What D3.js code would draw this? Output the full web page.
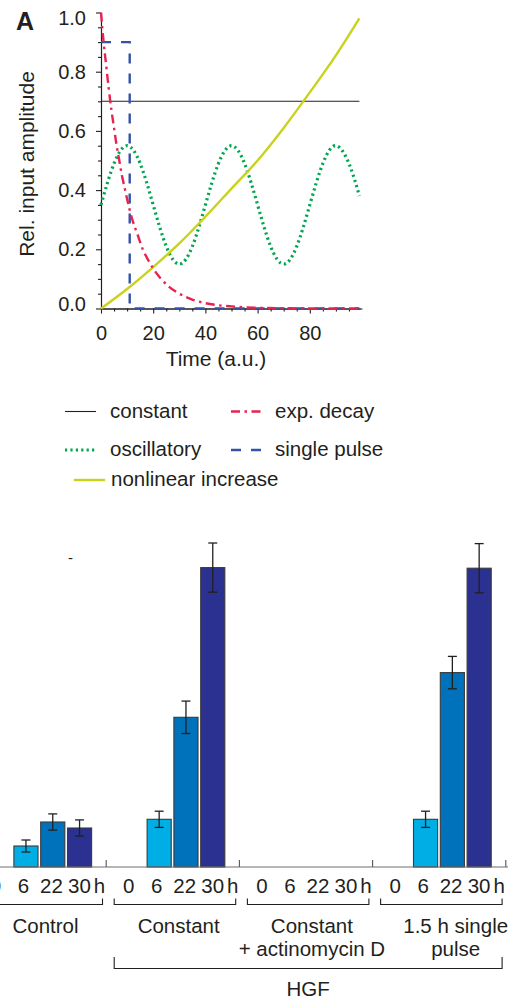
<!DOCTYPE html>
<html>
<head>
<meta charset="utf-8">
<script src="https://cdn.jsdelivr.net/npm/d3@7"></script>
<style>
  body { margin: 0; background: #fff; }
  svg text { font-family: "Liberation Sans", Arial, Helvetica, sans-serif; fill: #231f20; }
</style>
</head>
<body>
<svg id="chart" width="522" height="998"></svg>
<script>
// ---- panel A: input profiles ----
var constT = [0, 99];
var constV = [0.7, 0.7];

var decayT = [0, 1, 2, 3, 4, 5, 6, 7, 8, 9, 10, 12, 14, 16, 18, 20, 23, 26, 30, 35, 40, 45, 50, 60, 70, 80, 90, 99];
var decayV = [1.0, 0.9, 0.82, 0.74, 0.67, 0.61, 0.55, 0.5, 0.45, 0.41, 0.37, 0.3, 0.25, 0.2, 0.165, 0.135, 0.1, 0.074, 0.05, 0.03, 0.018, 0.011, 0.007, 0.0025, 0.001, 0, 0, 0];

var oscT = [0, 5, 10, 15, 20, 25, 30, 35, 40, 45, 50, 55, 60, 65, 70, 75, 80, 85, 90, 95, 99];
var oscV = [0.35, 0.49, 0.55, 0.49, 0.35, 0.21, 0.15, 0.21, 0.35, 0.49, 0.55, 0.49, 0.35, 0.21, 0.15, 0.21, 0.35, 0.49, 0.55, 0.49, 0.38];

var pulseT = [0, 11, 11, 99];
var pulseV = [0.9, 0.9, 0, 0];

var nonlinT = [0, 10, 20, 30, 40, 50, 60, 70, 80, 90, 99];
var nonlinV = [0, 0.066, 0.14, 0.22, 0.31, 0.405, 0.5, 0.61, 0.73, 0.855, 0.98];

var yTicks = [0, 0.2, 0.4, 0.6, 0.8, 1.0];
var xTicks = [0, 20, 40, 60, 80];

// ---- panel B: bars ----
var groups = ["Control", "Constant", "Constant + actinomycin D", "1.5 h single pulse"];
var groupLines = [["Control"], ["Constant"], ["Constant", "+ actinomycin D"], ["1.5 h single", "pulse"]];
var hours = ["0", "6", "22", "30"];
var controlVals = [0, 0.7, 1.5, 1.3];
var controlErr = [0, 0.2, 0.27, 0.27];
var constantVals = [0, 1.59, 4.99, 9.98];
var constantErr = [0, 0.27, 0.54, 0.82];
var actinoVals = [0, 0, 0, 0];
var actinoErr = [0, 0, 0, 0];
var pulseVals = [0, 1.59, 6.48, 9.96];
var pulseErr = [0, 0.27, 0.54, 0.82];

var svg = d3.select("#chart");
var ink = "#231f20";

// ============ panel A ============
var x = d3.scaleLinear().domain([0, 100]).range([101, 362]);
var y = d3.scaleLinear().domain([0, 1]).range([308.5, 12.5]);

svg.append("text").attr("x", 16).attr("y", 30)
    .style("font-size", "25px").style("font-weight", "bold").text("A");

// minor ticks
var yMinor = d3.range(0.05, 1.0, 0.05).filter(function (d) { return Math.abs(d * 5 - Math.round(d * 5)) > 0.01; });
var xMinor = d3.range(5, 100, 5).filter(function (d) { return d % 20 !== 0; });

var gyMinor = svg.append("g").attr("transform", "translate(101,0)")
    .call(d3.axisLeft(y).tickValues(yMinor).tickSize(3).tickSizeOuter(0).tickFormat(""));
var gxMinor = svg.append("g").attr("transform", "translate(0,308.5)")
    .call(d3.axisBottom(x).tickValues(xMinor).tickSize(3).tickSizeOuter(0).tickFormat(""));

var gy = svg.append("g").attr("transform", "translate(101,0)")
    .call(d3.axisLeft(y).tickValues(yTicks).tickSize(5).tickSizeOuter(0).tickPadding(10).tickFormat(d3.format(".1f")));
var gx = svg.append("g").attr("transform", "translate(0,308.5)")
    .call(d3.axisBottom(x).tickValues(xTicks).tickSize(5).tickSizeOuter(0).tickPadding(12).tickFormat(d3.format("d")));

[gyMinor, gxMinor, gy, gx].forEach(function (g) {
    g.selectAll("path, line").attr("stroke", ink).attr("stroke-width", 1.1);
    g.selectAll("text").style("font-size", "20px").attr("fill", ink);
});
gx.select(".domain").attr("d", "M" + x(0) + ",0.5H" + x(99.5));
// end labels are nudged inwards in the original
gy.selectAll(".tick text").attr("dy", function (d) {
    if (d === 1) return "0.62em";
    if (d === 0) return "0.1em";
    return "0.32em";
});

svg.append("text")
    .attr("transform", "translate(34,164) rotate(-90)")
    .attr("text-anchor", "middle").style("font-size", "21px")
    .text("Rel. input amplitude");
svg.append("text").attr("x", 216).attr("y", 366)
    .attr("text-anchor", "middle").style("font-size", "21px")
    .text("Time (a.u.)");

var series = [
    { name: "constant", t: constT, v: constV, color: "#231f20", width: 1.1, dash: null, curve: d3.curveLinear },
    { name: "oscillatory", t: oscT, v: oscV, color: "#00a651", width: 3.2, dash: "2.2,3.2", curve: d3.curveNatural },
    { name: "nonlinear increase", t: nonlinT, v: nonlinV, color: "#c9d21c", width: 2.4, dash: null, curve: d3.curveMonotoneX },
    { name: "single pulse", t: pulseT, v: pulseV, color: "#3553a6", width: 2.4, dash: "10,10", curve: d3.curveLinear },
    { name: "exp. decay", t: decayT, v: decayV, color: "#e8234f", width: 2.4, dash: "9,4.5,2.5,4.5", curve: d3.curveMonotoneX }
];

series.forEach(function (s) {
    var pts = s.t.map(function (t, i) { return [t, s.v[i]]; });
    var line = d3.line().x(function (d) { return x(d[0]); }).y(function (d) { return y(d[1]); }).curve(s.curve);
    svg.append("path").datum(pts)
        .attr("d", line)
        .attr("fill", "none")
        .attr("stroke", s.color)
        .attr("stroke-width", s.width)
        .attr("stroke-dasharray", s.dash);
});

// legend
var byName = {};
series.forEach(function (s) { byName[s.name] = s; });
var legendItems = [
    { name: "constant", lx: 65, ly: 411.5, tx: 110 },
    { name: "exp. decay", lx: 231, ly: 411.5, tx: 275 },
    { name: "oscillatory", lx: 65, ly: 450, tx: 110 },
    { name: "single pulse", lx: 231, ly: 450, tx: 275 },
    { name: "nonlinear increase", lx: 74, ly: 480, tx: 111 }
];
legendItems.forEach(function (it) {
    var s = byName[it.name];
    svg.append("line")
        .attr("x1", it.lx).attr("x2", it.lx + 31).attr("y1", it.ly).attr("y2", it.ly)
        .attr("stroke", s.color).attr("stroke-width", s.width)
        .attr("stroke-dasharray", s.dash);
    svg.append("text").attr("x", it.tx).attr("y", it.ly + 6)
        .style("font-size", "20.5px").text(it.name);
});

// ============ panel B ============
var groupData = [
    { vals: controlVals, err: controlErr },
    { vals: constantVals, err: constantErr },
    { vals: actinoVals, err: actinoErr },
    { vals: pulseVals, err: pulseErr }
];
var barColors = ["#00aee6", "#00aee6", "#0072bb", "#2b3190"];

var gxB = d3.scaleBand().domain(groups).range([-27.5, 505.3]);
var hx = d3.scaleBand().domain(hours).range([14.6, 14.6 + 26.8 * 3.9]).paddingInner(0.1).paddingOuter(0);
var labelX = d3.scalePoint().domain(hours).range([23, 107]);
var yb = d3.scaleLinear().domain([0, 10]).range([867, 567]);

// stray mark left from the cropped axis
svg.append("text").attr("x", 70.5).attr("y", 563).attr("text-anchor", "middle")
    .style("font-size", "15px").text("-");

groups.forEach(function (gname, gi) {
    var g0 = gxB(gname);
    var gd = groupData[gi];
    var gg = svg.append("g").attr("transform", "translate(" + g0 + ",0)");

    var bars = hours.map(function (h, i) { return { h: h, v: gd.vals[i], e: gd.err[i], c: barColors[i] }; })
        .filter(function (d) { return d.v > 0; });

    gg.selectAll("rect").data(bars).enter().append("rect")
        .attr("x", function (d) { return hx(d.h); })
        .attr("y", function (d) { return yb(d.v); })
        .attr("width", hx.bandwidth())
        .attr("height", function (d) { return yb(0) - yb(d.v); })
        .attr("fill", function (d) { return d.c; })
        .attr("stroke", "#3a3a3c").attr("stroke-width", 1.1);

    var eb = gg.selectAll("g.err").data(bars).enter().append("g").attr("class", "err")
        .attr("stroke", "#231f20").attr("stroke-width", 1.3);
    eb.append("line")
        .attr("x1", function (d) { return hx(d.h) + hx.bandwidth() / 2; })
        .attr("x2", function (d) { return hx(d.h) + hx.bandwidth() / 2; })
        .attr("y1", function (d) { return yb(d.v + d.e); })
        .attr("y2", function (d) { return yb(d.v - d.e); });
    [1, -1].forEach(function (sgn) {
        eb.append("line")
            .attr("x1", function (d) { return hx(d.h) + hx.bandwidth() / 2 - 4.5; })
            .attr("x2", function (d) { return hx(d.h) + hx.bandwidth() / 2 + 4.5; })
            .attr("y1", function (d) { return yb(d.v + sgn * d.e); })
            .attr("y2", function (d) { return yb(d.v + sgn * d.e); });
    });

    // group boundary tick
    gg.append("line")
        .attr("x1", gxB.bandwidth() + 0.5).attr("x2", gxB.bandwidth() + 0.5)
        .attr("y1", yb(0)).attr("y2", yb(0) - 7)
        .attr("stroke", "#555").attr("stroke-width", 1.1);

    // hour labels
    gg.selectAll("text.hr").data(hours).enter().append("text").attr("class", "hr")
        .attr("x", function (d) { return labelX(d); })
        .attr("y", 893)
        .attr("text-anchor", "middle").style("font-size", "20.5px")
        .text(function (d) { return d; });
    gg.append("text").attr("x", 127).attr("y", 893)
        .attr("text-anchor", "middle").style("font-size", "20.5px").text("h");

    // bracket
    gg.append("path")
        .attr("d", "M8.5,898.5V904.5H130V898.5")
        .attr("fill", "none").attr("stroke", ink).attr("stroke-width", 1.1);

    // group label
    var last = gi === groups.length - 1;
    var lbl = gg.append("text")
        .attr("text-anchor", last ? "end" : "middle")
        .style("font-size", "20.5px");
    groupLines[gi].forEach(function (ln, li) {
        lbl.append("tspan")
            .attr("x", last ? 136 : 73)
            .attr("y", 933 + li * 23)
            .text(ln);
    });
    if (last) {
        // second line of the last label is centred under the first
        var w0 = lbl.select("tspan").node().getComputedTextLength();
        lbl.selectAll("tspan").filter(function (d, i) { return i > 0; })
            .attr("text-anchor", "middle").attr("x", 136 - w0 / 2);
    }
});

// baseline
svg.append("line")
    .attr("x1", 0).attr("x2", 508).attr("y1", yb(0)).attr("y2", yb(0))
    .attr("stroke", "#6d6e71").attr("stroke-width", 1.2);

// HGF bracket
var hgfL = gxB("Constant") + 8.5, hgfR = gxB("1.5 h single pulse") + 130;
svg.append("path")
    .attr("d", "M" + hgfL + ",957V968.5H" + hgfR + "V957")
    .attr("fill", "none").attr("stroke", ink).attr("stroke-width", 1.1);
svg.append("text").attr("x", (hgfL + hgfR) / 2).attr("y", 996)
    .attr("text-anchor", "middle").style("font-size", "20.5px").text("HGF");
</script>
</body>
</html>
